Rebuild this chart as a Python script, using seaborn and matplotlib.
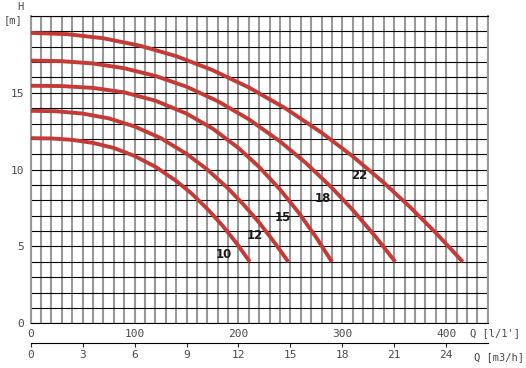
import numpy as np
import pandas as pd
import matplotlib
matplotlib.use("Agg")
import matplotlib.pyplot as plt
import seaborn as sns

# pump curves: Q [l/min] vs H [m]
q10 = [0, 20, 40, 60, 80, 100, 120, 140, 155, 170, 185, 198, 211]
h10 = [12.05, 12.03, 11.94, 11.74, 11.41, 10.89, 10.19, 9.27, 8.44, 7.45, 6.33, 5.23, 4.0]

q12 = [0, 25, 50, 75, 100, 125, 150, 170, 190, 205, 220, 235, 248]
h12 = [13.83, 13.8, 13.65, 13.34, 12.81, 12.06, 11.03, 10.01, 8.78, 7.72, 6.55, 5.23, 4.0]

q15 = [0, 30, 60, 90, 120, 150, 175, 200, 220, 240, 258, 275, 290]
h15 = [15.46, 15.44, 15.32, 15.03, 14.49, 13.65, 12.68, 11.41, 10.17, 8.71, 7.2, 5.58, 4.0]

q18 = [0, 30, 60, 90, 120, 150, 180, 210, 240, 265, 290, 310, 331, 351]
h18 = [17.1, 17.06, 16.91, 16.6, 16.1, 15.4, 14.46, 13.28, 11.84, 10.43, 8.82, 7.38, 5.72, 4.0]

q22 = [0, 35, 70, 105, 140, 175, 210, 245, 280, 310, 340, 365, 390, 416]
h22 = [18.9, 18.82, 18.55, 18.07, 17.39, 16.48, 15.35, 14.0, 12.41, 10.87, 9.15, 7.58, 5.89, 4.0]

models = ["10", "12", "15", "18", "22"]
q_ticks = [0, 100, 200, 300, 400]
h_ticks = [0, 5, 10, 15]
m3h_ticks = [0, 3, 6, 9, 12, 15, 18, 21, 24]

curves = {"10": (q10, h10), "12": (q12, h12), "15": (q15, h15),
          "18": (q18, h18), "22": (q22, h22)}
df = pd.concat([pd.DataFrame({"Q": q, "H": h, "model": m})
                for m, (q, h) in curves.items()], ignore_index=True)

# where the model numbers sit (Q, H)
label_pos = {"10": (186, 4.45), "12": (216, 5.7), "15": (243, 6.9),
             "18": (281, 8.1), "22": (316, 9.6)}

sns.set_style("white")
plt.rcParams["font.family"] = ["DejaVu Sans"]

fig = plt.figure(figsize=(5.26, 3.68), dpi=100)
ax = fig.add_axes([0.0584, 0.1215, 0.8688, 0.835])

red = "#c63a35"
sns.lineplot(data=df, x="Q", y="H", units="model", estimator=None,
             sort=False, color=red, lw=2.8, ax=ax, zorder=5,
             solid_capstyle="butt", solid_joinstyle="round")

for m in models:
    x, y = label_pos[m]
    ax.text(x, y, m, fontsize=8.5, fontweight="heavy", color="#1a1a1a",
            ha="center", va="center", zorder=6)

ax.set_xlim(0, 440)
ax.set_ylim(0, 20)
ax.set_xticks(q_ticks)
ax.set_yticks(h_ticks)
ax.set_xticks(np.arange(0, 441, 10), minor=True)
ax.set_yticks(np.arange(0, 21, 1), minor=True)
ax.grid(which="both", axis="x", color="#999999", lw=1.5)
ax.grid(which="both", axis="y", color="black", lw=0.8)
ax.set_axisbelow(True)

for side in ["left", "right"]:
    ax.spines[side].set_color("#999999")
    ax.spines[side].set_linewidth(1.5)
for side in ["top", "bottom"]:
    ax.spines[side].set_color("black")
    ax.spines[side].set_linewidth(0.8)

mono = "DejaVu Sans Mono"
grey = "#4a4a4a"
ax.tick_params(axis="both", which="minor", length=0)
ax.tick_params(axis="x", which="major", length=3, width=0.8, pad=1,
               labelsize=8, labelcolor=grey)
ax.tick_params(axis="y", which="major", length=3.5, width=0.8, pad=1,
               labelsize=8, labelcolor=grey)
for lab in ax.get_xticklabels() + ax.get_yticklabels():
    lab.set_family(mono)
ax.set_xlabel("")
ax.set_ylabel("")

sec = ax.secondary_xaxis(-0.065, functions=(lambda q: q * 0.06, lambda m: m / 0.06))
sec.set_xticks(m3h_ticks)
sec.spines["bottom"].set_linewidth(0.8)
sec.spines["bottom"].set_color("black")
sec.tick_params(axis="x", length=3, width=0.8, pad=2, labelsize=8,
                labelcolor=grey)
for lab in sec.get_xticklabels():
    lab.set_family(mono)

fig.text(20 / 526, 1 - 7 / 368, "H", fontsize=7.5, family=mono, color=grey,
         ha="center", va="center")
fig.text(13 / 526, 1 - 20 / 368, "[m]", fontsize=7.5, family=mono, color=grey,
         ha="center", va="center")
fig.text(470 / 526, 1 - 333 / 368, "Q [l/1']", fontsize=7.5, family=mono,
         color=grey, ha="left", va="center")
fig.text(474 / 526, 1 - 357 / 368, "Q [m3/h]", fontsize=7.5, family=mono,
         color=grey, ha="left", va="center")

fig.savefig("out.png", dpi=100)
